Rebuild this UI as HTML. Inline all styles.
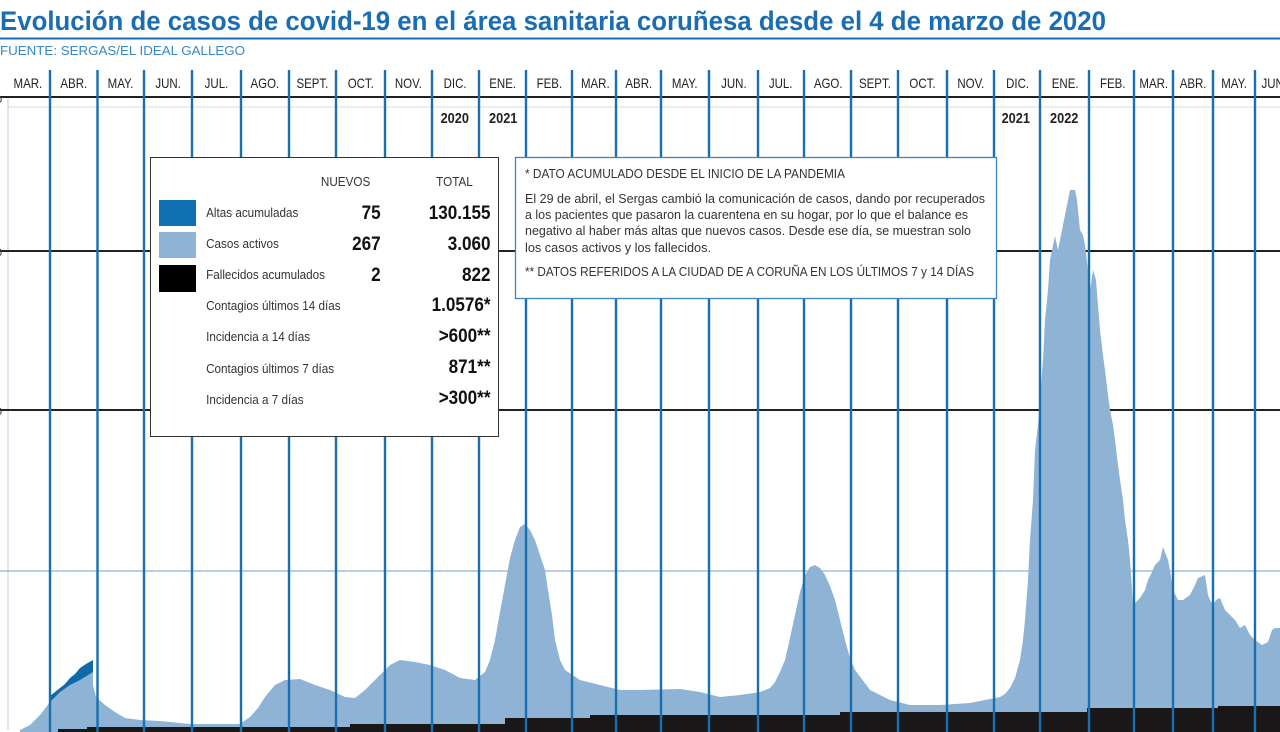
<!DOCTYPE html>
<html><head><meta charset="utf-8"><style>
html,body{margin:0;padding:0;background:#fff;width:1280px;height:732px;overflow:hidden}
svg{display:block}
text{font-family:"Liberation Sans",sans-serif}
</style></head><body>
<svg width="1280" height="732" viewBox="0 0 1280 732" xmlns="http://www.w3.org/2000/svg">
<text x="0" y="30" font-size="27" font-weight="bold" fill="#1a6db3" textLength="1106" lengthAdjust="spacingAndGlyphs">Evolución de casos de covid-19 en el área sanitaria coruñesa desde el 4 de marzo de 2020</text>
<line x1="0" y1="38.5" x2="1280" y2="38.5" stroke="#1a6db3" stroke-width="2"/>
<text x="0" y="55" font-size="13" fill="#3a86c4" textLength="245" lengthAdjust="spacingAndGlyphs">FUENTE: SERGAS/EL IDEAL GALLEGO</text>

<!-- chart area -->
<line x1="8" y1="98" x2="8" y2="730" stroke="#b8cfe6" stroke-width="1"/>
<line x1="0" y1="571" x2="1280" y2="571" stroke="#8fb3d5" stroke-width="1.2"/>
<line x1="0" y1="251" x2="1280" y2="251" stroke="#222" stroke-width="2"/>
<line x1="0" y1="410" x2="1280" y2="410" stroke="#222" stroke-width="2"/>
<line x1="0" y1="97" x2="1280" y2="97" stroke="#222" stroke-width="2"/>
<line x1="8" y1="107" x2="1280" y2="107" stroke="#ccc" stroke-width="0.8"/>
<text x="-4" y="103" font-size="11" fill="#333">0</text>
<text x="-4" y="256" font-size="11" fill="#333">0</text>
<text x="-4" y="415" font-size="11" fill="#333">0</text>

<!-- dark blue altas -->
<polygon fill="#0f6aa8" points="45,730 50,696 55,692 60,688 65,684 70,678 75,674 80,668 86,664 93,660 93,700 45,730"/>
<!-- light blue active -->
<polygon fill="#8fb3d5" points="20,730 30,725 40,715 50,702 60,692 70,685 80,680 93,672 93,685 96,697 105,705 115,712 125,718 140,720 160,721 190,724 240,724 250,717 258,708 265,697 275,685 285,680 300,679 315,685 330,690 345,697 355,698 365,690 380,675 390,665 400,660 415,662 430,665 445,670 460,678 475,680 485,672 490,660 495,640 500,612 505,585 510,558 515,540 520,527 525,524 530,530 535,540 540,555 545,570 548,590 552,615 555,640 560,660 565,670 580,680 600,685 620,690 640,690 680,689 700,692 720,697 740,695 760,692 770,688 775,682 780,672 785,660 790,638 795,615 800,592 805,575 810,567 815,565 820,568 825,575 830,586 835,600 840,620 845,640 850,658 855,670 870,690 890,700 910,705 940,705 970,703 985,700 1000,697 1005,694 1010,688 1015,678 1020,660 1023,640 1025,620 1028,580 1030,540 1033,500 1035,450 1038,425 1040,400 1043,360 1045,320 1048,290 1050,260 1053,245 1055,236 1058,250 1060,240 1063,225 1065,215 1068,200 1070,190 1075,190 1077,200 1080,230 1083,235 1085,245 1088,270 1090,290 1093,270 1096,280 1100,330 1103,355 1105,370 1108,395 1110,410 1113,425 1115,440 1118,465 1120,480 1123,500 1125,520 1128,540 1130,560 1133,605 1140,598 1145,590 1148,580 1152,572 1155,565 1160,560 1163,547 1168,560 1170,570 1173,590 1178,600 1183,600 1190,595 1195,585 1198,578 1205,575 1208,595 1210,600 1213,605 1216,600 1220,598 1225,610 1230,615 1235,620 1240,628 1245,625 1250,635 1255,640 1262,645 1268,642 1272,630 1275,628 1280,628 1280,732 20,732"/>
<!-- black fallecidos -->
<polygon fill="#1a1718" points="58,732 58,729 87,729 87,727 350,727 350,724 505,724 505,718 590,718 590,715 840,715 840,712 1087,712 1087,708 1218,708 1218,706 1280,706 1280,732"/>

<!-- vertical month lines -->
<g stroke="#1a6fb0" stroke-width="2.4">
<line x1="50" y1="70" x2="50" y2="732"/><line x1="97.5" y1="70" x2="97.5" y2="732"/><line x1="144" y1="70" x2="144" y2="732"/><line x1="192" y1="70" x2="192" y2="732"/><line x1="241" y1="70" x2="241" y2="732"/><line x1="289" y1="70" x2="289" y2="732"/><line x1="336" y1="70" x2="336" y2="732"/><line x1="385" y1="70" x2="385" y2="732"/><line x1="432" y1="70" x2="432" y2="732"/><line x1="479" y1="70" x2="479" y2="732"/><line x1="526" y1="70" x2="526" y2="732"/><line x1="572" y1="70" x2="572" y2="732"/><line x1="616" y1="70" x2="616" y2="732"/><line x1="661" y1="70" x2="661" y2="732"/><line x1="709" y1="70" x2="709" y2="732"/><line x1="758" y1="70" x2="758" y2="732"/><line x1="804" y1="70" x2="804" y2="732"/><line x1="851" y1="70" x2="851" y2="732"/><line x1="898" y1="70" x2="898" y2="732"/><line x1="947" y1="70" x2="947" y2="732"/><line x1="994" y1="70" x2="994" y2="732"/><line x1="1040" y1="70" x2="1040" y2="732"/><line x1="1089" y1="70" x2="1089" y2="732"/><line x1="1134" y1="70" x2="1134" y2="732"/><line x1="1173" y1="70" x2="1173" y2="732"/><line x1="1213" y1="70" x2="1213" y2="732"/><line x1="1255" y1="70" x2="1255" y2="732"/>
</g>

<!-- month labels -->
<g font-size="14" fill="#222" text-anchor="middle" transform="scale(0.82,1)">
<text x="34" y="88">MAR.</text><text x="90" y="88">ABR.</text><text x="147" y="88">MAY.</text><text x="205" y="88">JUN.</text><text x="264" y="88">JUL.</text><text x="323" y="88">AGO.</text><text x="381" y="88">SEPT.</text><text x="440" y="88">OCT.</text><text x="498" y="88">NOV.</text><text x="555" y="88">DIC.</text><text x="613" y="88">ENE.</text><text x="670" y="88">FEB.</text><text x="726" y="88">MAR.</text><text x="779" y="88">ABR.</text><text x="835" y="88">MAY.</text><text x="895" y="88">JUN.</text><text x="952" y="88">JUL.</text><text x="1010" y="88">AGO.</text><text x="1067" y="88">SEPT.</text><text x="1125" y="88">OCT.</text><text x="1184" y="88">NOV.</text><text x="1241" y="88">DIC.</text><text x="1299" y="88">ENE.</text><text x="1357" y="88">FEB.</text><text x="1407" y="88">MAR.</text><text x="1455" y="88">ABR.</text><text x="1505" y="88">MAY.</text><text x="1554" y="88">JUN.</text>
</g>
<g font-size="15" font-weight="bold" fill="#222" text-anchor="middle" transform="scale(0.85,1)">
<text x="535" y="123">2020</text><text x="592" y="123">2021</text><text x="1195" y="123">2021</text><text x="1252" y="123">2022</text>
</g>

<!-- legend box -->
<rect x="150.5" y="157.5" width="348" height="279" fill="#fff" stroke="#333" stroke-width="1"/>
<rect x="159" y="200" width="37" height="26" fill="#0e70b0"/>
<rect x="159" y="232" width="37" height="26" fill="#8fb3d5"/>
<rect x="159" y="265" width="37" height="27" fill="#000"/>
<g font-size="13" fill="#333" transform="scale(0.9,1)">
<text x="384" y="186" text-anchor="middle">NUEVOS</text><text x="505" y="186" text-anchor="middle">TOTAL</text>
<text x="229" y="217">Altas acumuladas</text>
<text x="229" y="248">Casos activos</text>
<text x="229" y="279">Fallecidos acumulados</text>
<text x="229" y="310">Contagios últimos 14 días</text>
<text x="229" y="341">Incidencia a 14 días</text>
<text x="229" y="373">Contagios últimos 7 días</text>
<text x="229" y="404">Incidencia a 7 días</text>
</g>
<g font-size="19" font-weight="bold" fill="#111" text-anchor="end" transform="scale(0.9,1)">
<text x="423" y="219">75</text><text x="545" y="219">130.155</text>
<text x="423" y="250">267</text><text x="545" y="250">3.060</text>
<text x="423" y="281">2</text><text x="545" y="281">822</text>
<text x="545" y="311">1.0576*</text>
<text x="545" y="342">&gt;600**</text>
<text x="545" y="373">871**</text>
<text x="545" y="404">&gt;300**</text>
</g>

<!-- note box -->
<rect x="515.5" y="157.5" width="481" height="141" fill="#fff" stroke="#3a86c4" stroke-width="1.3"/>
<g font-size="12.5" fill="#333">
<text x="525" y="178" textLength="320" lengthAdjust="spacingAndGlyphs">* DATO ACUMULADO DESDE EL INICIO DE LA PANDEMIA</text>
<text x="525" y="203" textLength="460" lengthAdjust="spacingAndGlyphs">El 29 de abril, el Sergas cambió la comunicación de casos, dando por recuperados</text>
<text x="525" y="219" textLength="443" lengthAdjust="spacingAndGlyphs">a los pacientes que pasaron la cuarentena en su hogar, por lo que el balance es</text>
<text x="525" y="235" textLength="446" lengthAdjust="spacingAndGlyphs">negativo al haber más altas que nuevos casos. Desde ese día, se muestran solo</text>
<text x="525" y="252" textLength="186" lengthAdjust="spacingAndGlyphs">los casos activos y los fallecidos.</text>
<text x="525" y="276" textLength="449" lengthAdjust="spacingAndGlyphs">** DATOS REFERIDOS A LA CIUDAD DE A CORUÑA EN LOS ÚLTIMOS 7 y 14 DÍAS</text>
</g>
</svg>
</body></html>
